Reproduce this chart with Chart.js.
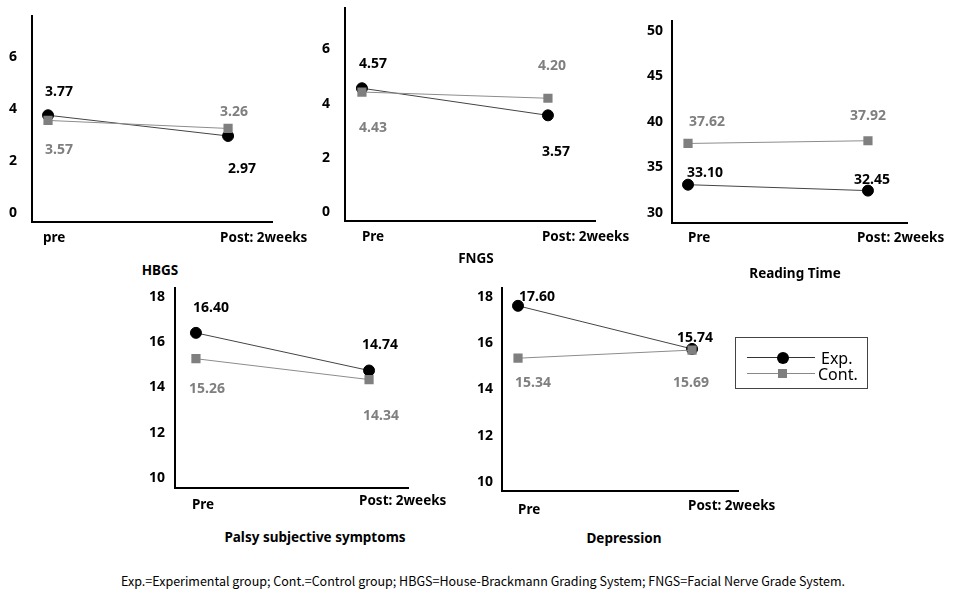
<!DOCTYPE html>
<html>
<head>
<meta charset="utf-8">
<script src="https://cdn.jsdelivr.net/npm/chart.js@4/dist/chart.umd.min.js"></script>
<style>
  html, body { margin:0; padding:0; background:#fff; }
  body { width:960px; height:592px; position:relative; overflow:hidden; font-family:'Noto Sans', sans-serif; }
  canvas { position:absolute; }
  .ttl { position:absolute; font-weight:bold; font-size:13.5px; color:#000; transform:translate(-50%,-50%); white-space:nowrap; }
  #legend { position:absolute; left:735px; top:337px; width:131px; height:50px; border:1px solid #444; background:#fff; }
  .lg-line { position:absolute; height:1px; }
  .lg-txt { position:absolute; font-size:16px; color:#000; transform:translateY(-50%); white-space:nowrap; }
  #note { position:absolute; left:483px; top:580px; transform:translate(-50%,-50%); font-family:'Noto Sans CJK KR', sans-serif; font-size:12.5px; color:#000; white-space:nowrap; }
</style>
</head>
<body>
<script>
// ---------- DATA ----------
const catsLower = ['pre', 'Post: 2weeks'];
const cats = ['Pre', 'Post: 2weeks'];
const seriesNames = ['Exp.', 'Cont.'];

const hbgsExp = [3.77, 2.97];
const hbgsCont = [3.57, 3.26];
const fngsExp = [4.57, 3.57];
const fngsCont = [4.43, 4.20];
const readExp = [33.10, 32.45];
const readCont = [37.62, 37.92];
const palsyExp = [16.40, 14.74];
const palsyCont = [15.26, 14.34];
const depExp = [17.60, 15.74];
const depCont = [15.34, 15.69];

const smallTicks = [0, 2, 4, 6];
const readTicks = [30, 35, 40, 45, 50];
const scoreTicks = [10, 12, 14, 16, 18];

const titles = ['HBGS', 'FNGS', 'Reading Time', 'Palsy subjective symptoms', 'Depression'];
const footnote = 'Exp.=Experimental group; Cont.=Control group; HBGS=House-Brackmann Grading System; FNGS=Facial Nerve Grade System.';

// ---------- LAYOUT / STYLE ----------
const FONT = "'Noto Sans', sans-serif";
const YW = 30, PT = 6, PR = 50, XH = 30;
const panels = [
  { ax:[32,15,272,222], y:[-0.35,7.62], x:[-0.089,1.244], ticks:smallTicks, cats:catsLower, exp:hbgsExp, cont:hbgsCont, pad:15,
    expOff:[[11,-23],[14,33]], contOff:[[11,30],[6,-16]], catDx:[-5,-8], catDy:[16,16] },
  { ax:[345,7,595,221], y:[-0.33,7.55], x:[-0.091,1.253], ticks:smallTicks, cats:cats, exp:fngsExp, cont:fngsCont, pad:15,
    expOff:[[11,-24],[8,37]], contOff:[[11,36],[4,-32]], catDx:[0,-6], catDy:[16,16] },
  { ax:[672,20,907,223], y:[28.9,51.1], x:[-0.089,1.217], ticks:readTicks, cats:cats, exp:readExp, cont:readCont, pad:9,
    expOff:[[17,-12],[4,-11]], contOff:[[19,-21],[0,-25]], catDx:[0,-11], catDy:[15,15] },
  { ax:[175,287,408,488], y:[9.56,18.4], x:[-0.121,1.225], ticks:scoreTicks, cats:cats, exp:palsyExp, cont:palsyCont, pad:10,
    expOff:[[15,-25],[11,-25]], contOff:[[11,30],[12,36]], catDx:[-4,-10], catDy:[17,13] },
  { ax:[502,287,738,491], y:[9.61,18.39], x:[-0.092,1.264], ticks:scoreTicks, cats:cats, exp:depExp, cont:depCont, pad:9,
    expOff:[[19,-9],[3,-11]], contOff:[[15,25],[-1,33]], catDx:[0,-4], catDy:[19,15] }
];
const titlePos = [[160,270],[476,258],[795,273],[315,537],[624,538]];

const labelPlugin = {
  id: 'panelLabels',
  afterDatasetsDraw(chart, args, opts) {
    const ctx = chart.ctx;
    ctx.save();
    ctx.font = 'bold 14px ' + FONT;
    ctx.textAlign = 'center';
    ctx.textBaseline = 'middle';
    chart.data.datasets.forEach((ds, di) => {
      const meta = chart.getDatasetMeta(di);
      const offs = opts.offsets[di];
      meta.data.forEach((pt, i) => {
        ctx.fillStyle = opts.colors[di];
        ctx.fillText(ds.data[i].y.toFixed(2), pt.x + offs[i][0], pt.y + offs[i][1]);
      });
    });
    const xs = chart.scales.x;
    ctx.font = 'bold 13.5px ' + FONT;
    ctx.textAlign = 'left';
    ctx.fillStyle = '#000';
    opts.cats.forEach((c, i) => {
      ctx.fillText(c, xs.getPixelForValue(i) + opts.catDx[i], chart.chartArea.bottom + opts.catDy[i]);
    });
    ctx.restore();
  }
};

panels.forEach((p, k) => {
  const cv = document.createElement('canvas');
  const w = p.ax[2] - p.ax[0] + YW + PR;
  const h = p.ax[3] - p.ax[1] + PT + XH;
  cv.width = w; cv.height = h;
  cv.style.width = w + 'px'; cv.style.height = h + 'px';
  cv.style.left = (p.ax[0] - YW) + 'px';
  cv.style.top = (p.ax[1] - PT) + 'px';
  document.body.appendChild(cv);
  new Chart(cv, {
    type: 'line',
    data: {
      datasets: [
        { label: seriesNames[0], data: p.exp.map((v, i) => ({ x: i, y: v })), order: 1,
          borderColor: '#444', borderWidth: 1, pointStyle: 'circle', pointRadius: 5.5,
          pointBackgroundColor: '#000', pointBorderColor: '#000', pointBorderWidth: 1 },
        { label: seriesNames[1], data: p.cont.map((v, i) => ({ x: i, y: v })), order: 0,
          borderColor: '#8c8c8c', borderWidth: 1, pointStyle: 'rect', pointRadius: 6.5,
          pointBackgroundColor: '#7f7f7f', pointBorderColor: '#7f7f7f', pointBorderWidth: 0 }
      ]
    },
    options: {
      responsive: false, animation: false, devicePixelRatio: 1,
      layout: { padding: { top: PT, right: PR, left: 0, bottom: 0 } },
      plugins: {
        legend: { display: false }, tooltip: { enabled: false }, title: { display: false },
        panelLabels: { offsets: [p.expOff, p.contOff], colors: ['#000', '#7f7f7f'], cats: p.cats, catDx: p.catDx, catDy: p.catDy }
      },
      scales: {
        x: { type: 'linear', min: p.x[0], max: p.x[1],
             ticks: { display: false }, grid: { display: false, drawTicks: false },
             border: { display: true, color: '#000', width: 2 },
             afterFit: s => { s.height = XH; s.paddingLeft = 0; s.paddingRight = 0; } },
        y: { type: 'linear', min: p.y[0], max: p.y[1],
             afterBuildTicks: s => { s.ticks = p.ticks.map(v => ({ value: v })); },
             afterFit: s => { s.width = YW; s.paddingTop = 0; s.paddingBottom = 0; },
             grid: { display: false, drawTicks: false },
             border: { display: true, color: '#000', width: 2 },
             ticks: { color: '#000', padding: p.pad, font: { family: FONT, size: 14, weight: 'bold' } } }
      }
    },
    plugins: [labelPlugin]
  });
});

titles.forEach((t, i) => {
  const d = document.createElement('div');
  d.className = 'ttl';
  d.textContent = t;
  d.style.left = titlePos[i][0] + 'px';
  d.style.top = titlePos[i][1] + 'px';
  document.body.appendChild(d);
});

// legend
const lg = document.createElement('div');
lg.id = 'legend';
lg.innerHTML =
  '<div class="lg-line" style="left:11px;top:19px;width:68px;background:#333"></div>' +
  '<div style="position:absolute;left:41px;top:14px;width:12px;height:12px;border-radius:50%;background:#000"></div>' +
  '<div class="lg-line" style="left:11px;top:35px;width:68px;background:#888"></div>' +
  '<div style="position:absolute;left:42px;top:31px;width:9px;height:9px;background:#7f7f7f"></div>' +
  '<div class="lg-txt" style="left:85px;top:20px">' + seriesNames[0] + '</div>' +
  '<div class="lg-txt" style="left:82px;top:36px">' + seriesNames[1] + '</div>';
document.body.appendChild(lg);

const note = document.createElement('div');
note.id = 'note';
note.textContent = footnote;
document.body.appendChild(note);
</script>
</body>
</html>
